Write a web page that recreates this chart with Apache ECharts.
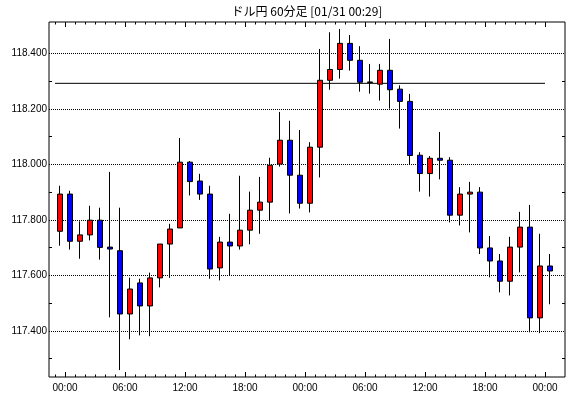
<!DOCTYPE html>
<html><head><meta charset="utf-8">
<script src="https://cdn.jsdelivr.net/npm/echarts@6/dist/echarts.min.js"></script>
<style>html,body{margin:0;padding:0;background:#fff}#c{width:570px;height:398px}</style>
</head><body><div id="c"></div>
<script>
const chartTitle = 'ドル円 60分足 [01/31 00:29]';
const times = ['23:00',
 '00:00','01:00','02:00','03:00','04:00','05:00','06:00','07:00','08:00','09:00','10:00','11:00',
 '12:00','13:00','14:00','15:00','16:00','17:00','18:00','19:00','20:00','21:00','22:00','23:00',
 '00:00','01:00','02:00','03:00','04:00','05:00','06:00','07:00','08:00','09:00','10:00','11:00',
 '12:00','13:00','14:00','15:00','16:00','17:00','18:00','19:00','20:00','21:00','22:00','23:00',
 '00:00'];
const open = [117.759,117.893,117.723,117.746,117.799,117.702,117.689,117.461,117.573,117.490,
 117.591,117.713,117.771,118.008,117.940,117.893,117.627,117.720,117.706,117.763,
 117.835,117.864,118.001,118.087,117.961,117.860,118.062,118.303,118.342,118.436,
 118.375,118.297,118.289,118.339,118.271,118.227,118.033,117.967,118.022,118.015,
 117.817,117.893,117.900,117.699,117.652,117.579,117.702,117.774,117.447,117.634];
const close = [117.893,117.723,117.746,117.799,117.701,117.695,117.461,117.551,117.490,117.591,
 117.713,117.767,118.008,117.938,117.893,117.623,117.720,117.706,117.763,117.835,
 117.864,117.997,118.087,117.961,117.860,118.062,118.303,118.342,118.436,118.375,
 118.296,118.295,118.339,118.269,118.227,118.032,117.967,118.022,118.015,117.817,
 117.893,117.900,117.699,117.652,117.579,117.702,117.774,117.447,117.634,117.616];
const low = [117.707,117.693,117.660,117.726,117.657,117.449,117.259,117.370,117.384,117.381,
 117.557,117.591,117.771,117.888,117.872,117.588,117.582,117.600,117.693,117.712,
 117.750,117.799,117.992,117.823,117.841,117.827,117.953,118.269,118.309,118.338,
 118.262,118.255,118.230,118.201,118.129,117.999,117.902,117.884,117.946,117.791,
 117.780,117.755,117.677,117.593,117.539,117.528,117.611,117.395,117.392,117.496];
const high = [117.923,117.905,117.795,117.851,117.844,117.973,117.844,117.592,117.588,117.610,
 117.713,117.786,118.095,118.012,117.966,117.923,117.739,117.822,117.959,117.902,
 117.955,118.024,118.189,118.157,118.124,118.080,118.416,118.476,118.488,118.466,
 118.426,118.362,118.362,118.452,118.285,118.254,118.044,118.030,118.117,118.026,
 117.918,117.937,117.918,117.742,117.677,117.739,117.829,117.854,117.750,117.677];
const refLevel = 118.292;
const refStartHour = -1, refEndHour = 48;
const yTicks = [117.4,117.6,117.8,118.0,118.2,118.4];
const yMinorTicks = [117.3,117.5,117.7,117.9,118.1,118.3];
const xTickHours = [0,6,12,18,24,30,36,42,48];
const xTickLabels = ['00:00','06:00','12:00','18:00','00:00','06:00','12:00','18:00','00:00'];

// hour start of each candle relative to the first 00:00 (times[1])
const firstMidnight = times.indexOf('00:00');
const candles = open.map((o, i) => [i - firstMidnight + 0.5, o, close[i], low[i], high[i]]);
const minorHours = [];
for (let h = -1; h <= 48; h++) minorHours.push(h);

const FONT = 'Liberation Sans';
const X_MIN = -1.6, X_MAX = 50;
const Y_MIN = 117.234, Y_MAX = 118.513;

function xAxisDef(pos, ticks, len, withLabels) {
  return {
    type: 'value', min: X_MIN, max: X_MAX, position: pos,
    axisLine: { show: false, onZero: false },
    splitLine: { show: false },
    axisTick: { show: true, inside: true, length: len, customValues: ticks, lineStyle: { color: '#000', width: 1 } },
    axisLabel: withLabels ? {
      show: true, customValues: xTickHours, margin: 6, color: '#000', fontFamily: FONT, fontSize: 10,
      formatter: v => xTickLabels[xTickHours.indexOf(v)]
    } : { show: false }
  };
}

const chart = echarts.init(document.getElementById('c'), null, { renderer: 'canvas' });
chart.setOption({
  animation: false,
  backgroundColor: '#fff',
  graphic: [{
    type: 'text', x: 307, y: 5,
    style: { text: chartTitle, textAlign: 'center', textVerticalAlign: 'top',
      font: '12px "Noto Sans CJK JP", sans-serif', fill: '#000' }
  }],
  grid: { left: 49, top: 22, width: 516, height: 355, show: true, borderColor: '#000', borderWidth: 1 },
  xAxis: [
    xAxisDef('bottom', xTickHours, 5, true),
    xAxisDef('bottom', minorHours, 2.5, false),
    xAxisDef('top', xTickHours, 5, false),
    xAxisDef('top', minorHours, 2.5, false)
  ],
  yAxis: [
    {
      type: 'value', min: Y_MIN, max: Y_MAX, position: 'left',
      axisLine: { show: false, onZero: false },
      axisTick: { show: false, customValues: yTicks },
      axisLabel: { customValues: yTicks, margin: 2, color: '#000', fontFamily: FONT, fontSize: 10,
        formatter: v => v.toFixed(3) },
      splitLine: { show: true, lineStyle: { color: '#000', width: 1, type: [1, 1] } }
    },
    {
      type: 'value', min: Y_MIN, max: Y_MAX, position: 'left',
      axisLine: { show: false, onZero: false },
      axisTick: { show: true, inside: true, length: 3, customValues: yMinorTicks, lineStyle: { color: '#000' } },
      axisLabel: { show: false }, splitLine: { show: false }
    },
    {
      type: 'value', min: Y_MIN, max: Y_MAX, position: 'right',
      axisLine: { show: false, onZero: false },
      axisTick: { show: true, inside: true, length: 3, customValues: yMinorTicks, lineStyle: { color: '#000' } },
      axisLabel: { show: false }, splitLine: { show: false }
    }
  ],
  series: [
    {
      type: 'line', xAxisIndex: 0, yAxisIndex: 0, z: 1, silent: true, symbol: 'none',
      data: [[refStartHour, refLevel], [refEndHour, refLevel]],
      lineStyle: { color: '#000', width: 1 }
    },
    {
      type: 'candlestick', xAxisIndex: 0, yAxisIndex: 0, z: 2,
      barWidth: 6,
      data: candles,
      itemStyle: { color: '#ff0000', color0: '#0000ff', borderColor: '#000', borderColor0: '#000', borderWidth: 1 }
    }
  ]
});
</script></body></html>
